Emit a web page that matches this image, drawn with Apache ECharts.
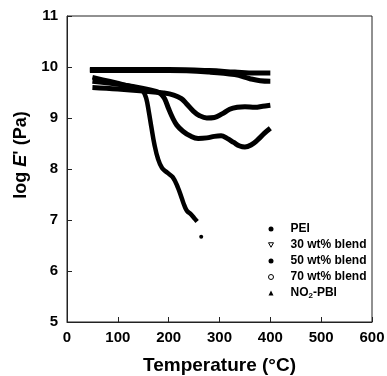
<!DOCTYPE html>
<html>
<head>
<meta charset="utf-8">
<script src="https://cdn.jsdelivr.net/npm/echarts@6/dist/echarts.min.js"></script>
<style>
  html, body { margin: 0; padding: 0; background: #fff; }
  #chart { width: 387px; height: 376px; }
</style>
</head>
<body>
<div id="chart"></div>
<script>
// temperature ticks / value ticks
const xTicks = [0, 100, 200, 300, 400, 500, 600];
const yTicks = [5, 6, 7, 8, 9, 10, 11];

const seriesNames = ['PEI', '30 wt% blend', '50 wt% blend', '70 wt% blend', 'NO2-PBI'];

// PEI
const peiT = [50, 80, 110, 140, 150, 156, 161, 166, 172, 179, 187, 197, 208, 218, 226, 231, 236, 243, 250, 256];
const peiE = [9.80, 9.73, 9.66, 9.58, 9.52, 9.38, 9.12, 8.82, 8.48, 8.20, 8.02, 7.93, 7.84, 7.64, 7.42, 7.28, 7.18, 7.12, 7.04, 6.97];
const peiLastT = 264;
const peiLastE = 6.67;

// 30 wt% blend
const b30T = [50, 100, 150, 175, 185, 192, 200, 208, 216, 228, 242, 258, 275, 290, 303, 315, 328, 340, 350, 362, 375, 388, 400];
const b30E = [9.72, 9.66, 9.58, 9.52, 9.47, 9.38, 9.18, 9.00, 8.86, 8.74, 8.65, 8.60, 8.61, 8.64, 8.65, 8.60, 8.52, 8.45, 8.43, 8.47, 8.57, 8.70, 8.80];

// 50 wt% blend
const b50T = [50, 100, 150, 190, 210, 225, 235, 248, 260, 275, 290, 305, 320, 335, 350, 370, 385, 400];
const b50E = [9.60, 9.57, 9.53, 9.49, 9.45, 9.38, 9.28, 9.14, 9.05, 9.00, 9.01, 9.08, 9.17, 9.21, 9.22, 9.21, 9.23, 9.25];

// 70 wt% blend
const b70T = [45, 100, 200, 280, 330, 370, 400];
const b70E = [9.95, 9.95, 9.95, 9.93, 9.90, 9.88, 9.88];

// NO2-PBI
const pbiT = [45, 100, 200, 280, 330, 360, 380, 400];
const pbiE = [9.93, 9.93, 9.93, 9.90, 9.85, 9.77, 9.73, 9.72];

const zip = (t, e) => t.map((v, i) => [v, e[i]]);

const chart = echarts.init(document.getElementById('chart'));

const font = 'Liberation Sans, Arial, sans-serif';

const lineSeries = (name, data, width) => ({
  name: name,
  type: 'line',
  data: data,
  smooth: 0.4,
  symbol: 'none',
  lineStyle: { color: '#000', width: width },
  itemStyle: { color: '#000' },
  z: 3
});

const peiData = zip(peiT, peiE);
peiData.push(null);
peiData.push({ value: [peiLastT, peiLastE], symbol: 'circle', symbolSize: 4 });

const option = {
  animation: false,
  backgroundColor: '#fff',
  grid: {
    left: 67, right: 15, top: 16, bottom: 54,
    outerBoundsMode: 'none',
    show: true, borderColor: '#222', borderWidth: 1
  },
  xAxis: {
    type: 'value',
    min: xTicks[0], max: xTicks[xTicks.length - 1], interval: 100,
    name: 'Temperature (°C)',
    nameLocation: 'middle',
    nameGap: 34,
    nameTextStyle: { fontFamily: font, fontWeight: 'bold', fontSize: 19, color: '#000' },
    axisLine: { lineStyle: { color: '#222', width: 1 } },
    axisTick: { inside: true, length: 5, lineStyle: { color: '#222' } },
    axisLabel: { fontFamily: font, fontWeight: 'bold', fontSize: 15, color: '#000', margin: 8 },
    splitLine: { show: false }
  },
  yAxis: {
    type: 'value',
    min: yTicks[0], max: yTicks[yTicks.length - 1], interval: 1,
    axisLine: { show: true, lineStyle: { color: '#222', width: 1 } },
    axisTick: { show: true, inside: true, length: 5, lineStyle: { color: '#222' } },
    axisLabel: { fontFamily: font, fontWeight: 'bold', fontSize: 15, color: '#000', margin: 9 },
    splitLine: { show: false }
  },
  legend: {
    orient: 'vertical',
    left: 263,
    top: 217,
    itemWidth: 5,
    itemHeight: 5,
    itemGap: 2,
    textStyle: {
      fontFamily: font, fontWeight: 'bold', fontSize: 12, color: '#000',
      lineHeight: 14, padding: [0, 0, 0, 12],
      rich: {
        s: { fontFamily: font, fontWeight: 'bold', fontSize: 8, color: '#000', padding: [6, 0, 0, 0] }
      }
    },
    formatter: n => n === 'NO2-PBI' ? 'NO{s|2}-PBI' : n,
    data: [
      { name: seriesNames[0], icon: 'circle', itemStyle: { color: '#000' } },
      { name: seriesNames[1], icon: 'path://M0,0L10,0L5,9Z', itemStyle: { color: '#fff', borderColor: '#000', borderWidth: 1 } },
      { name: seriesNames[2], icon: 'circle', itemStyle: { color: '#000' } },
      { name: seriesNames[3], icon: 'circle', itemStyle: { color: '#fff', borderColor: '#000', borderWidth: 1 } },
      { name: seriesNames[4], icon: 'triangle', itemStyle: { color: '#000' } }
    ]
  },
  graphic: [{
    type: 'text',
    x: 21,
    y: 155,
    rotation: Math.PI / 2,
    style: {
      text: '{a|log }{e|E}{a|\' (Pa)}',
      align: 'center',
      verticalAlign: 'middle',
      fill: '#000',
      rich: {
        a: { fontFamily: font, fontWeight: 'bold', fontSize: 18, fill: '#000' },
        e: { fontFamily: font, fontWeight: 'bold', fontStyle: 'italic', fontSize: 18, fill: '#000' }
      }
    }
  }],
  series: [
    Object.assign(lineSeries(seriesNames[0], peiData, 4.5), { connectNulls: false }),
    lineSeries(seriesNames[1], zip(b30T, b30E), 5),
    lineSeries(seriesNames[2], zip(b50T, b50E), 5),
    lineSeries(seriesNames[3], zip(b70T, b70E), 5),
    lineSeries(seriesNames[4], zip(pbiT, pbiE), 5)
  ]
};

chart.setOption(option);
</script>
</body>
</html>
